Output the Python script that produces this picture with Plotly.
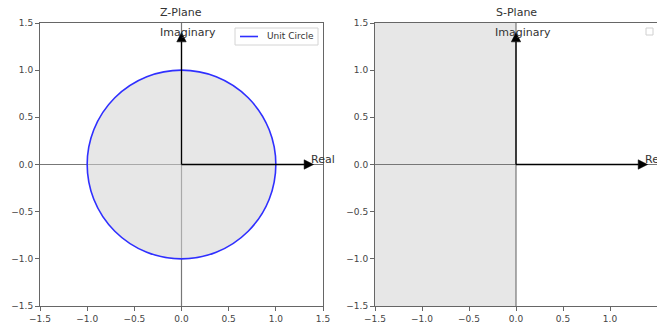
import plotly.graph_objects as go

# ---- data / parameters ----
axis_range = [-1.5, 1.5]
tick_vals = [-1.5, -1.0, -0.5, 0.0, 0.5, 1.0, 1.5]
circle_radius = 1.0
arrow_shaft = 1.3
head_length = 0.1
head_width = 0.1
real_label_pos = [1.35, 0.0]
imag_label_pos = [-0.25, 1.35]
panel_titles = ["Z-Plane", "S-Plane"]
stable_region_x = [-1.5, 0.0]
legend_name = "Unit Circle"

W, H = 657, 324
FONT = "DejaVu Sans"
FILL = "rgba(211,211,211,0.55)"
SPINE = "#666"
CIRCLE_COLOR = "#2f2fff"

fig = go.Figure()

def add_arrows(xa, ya):
    # real axis arrow
    fig.add_trace(go.Scatter(x=[0, arrow_shaft], y=[0, 0], mode="lines",
                             line=dict(color="black", width=1.3),
                             xaxis=xa, yaxis=ya, showlegend=False, hoverinfo="skip"))
    fig.add_trace(go.Scatter(x=[arrow_shaft, arrow_shaft + head_length, arrow_shaft, arrow_shaft],
                             y=[-head_width / 2, 0, head_width / 2, -head_width / 2],
                             mode="lines", fill="toself", fillcolor="black",
                             line=dict(color="black", width=0.5),
                             xaxis=xa, yaxis=ya, showlegend=False, hoverinfo="skip"))
    # imaginary axis arrow
    fig.add_trace(go.Scatter(x=[0, 0], y=[0, arrow_shaft], mode="lines",
                             line=dict(color="black", width=1.3),
                             xaxis=xa, yaxis=ya, showlegend=False, hoverinfo="skip"))
    fig.add_trace(go.Scatter(x=[-head_width / 2, 0, head_width / 2, -head_width / 2],
                             y=[arrow_shaft, arrow_shaft + head_length, arrow_shaft, arrow_shaft],
                             mode="lines", fill="toself", fillcolor="black",
                             line=dict(color="black", width=0.5),
                             xaxis=xa, yaxis=ya, showlegend=False, hoverinfo="skip"))

add_arrows("x", "y")
add_arrows("x2", "y2")

shapes = []
# unit circle
shapes.append(dict(type="circle", xref="x", yref="y",
                   x0=-circle_radius, y0=-circle_radius, x1=circle_radius, y1=circle_radius,
                   fillcolor=FILL, line=dict(color=CIRCLE_COLOR, width=1.6), layer="below"))
# left half-plane fill in S-plane
shapes.append(dict(type="rect", xref="x2", yref="y2 domain",
                   x0=stable_region_x[0], x1=stable_region_x[1], y0=0, y1=1,
                   fillcolor=FILL, line=dict(width=0), layer="below"))
# axhline / axvline
for xr, yr in (("x", "y"), ("x2", "y2")):
    shapes.append(dict(type="line", xref=f"{xr} domain", yref=yr, x0=0, x1=1, y0=0, y1=0,
                       line=dict(color="#777", width=1.2), layer="below"))
    shapes.append(dict(type="line", xref=xr, yref=f"{yr} domain", x0=0, x1=0, y0=0, y1=1,
                       line=dict(color="#777", width=1.2), layer="below"))

# legend box (Z-plane) drawn in matplotlib style
shapes.append(dict(type="rect", xref="paper", yref="paper",
                   x0=235 / W, x1=318 / W, y0=1 - 45 / H, y1=1 - 28 / H,
                   line=dict(color="#d4d4d4", width=1), fillcolor="white"))
shapes.append(dict(type="line", xref="paper", yref="paper",
                   x0=240 / W, x1=258 / W, y0=1 - 36.5 / H, y1=1 - 36.5 / H,
                   line=dict(color=CIRCLE_COLOR, width=1.6)))
# empty legend box on S-plane
shapes.append(dict(type="rect", xref="paper", yref="paper",
                   x0=646 / W, x1=653 / W, y0=1 - 35 / H, y1=1 - 28 / H,
                   line=dict(color="#d0d0d0", width=1), fillcolor="white"))

annotations = []
annotations.append(dict(x=265 / W, y=1 - 36.5 / H, xref="paper", yref="paper",
                        text=legend_name, showarrow=False, xanchor="left", yanchor="middle",
                        font=dict(family=FONT, size=9, color="#333")))
for xr, yr in (("x", "y"), ("x2", "y2")):
    annotations.append(dict(x=real_label_pos[0], y=real_label_pos[1], xref=xr, yref=yr,
                            text="Real", showarrow=False, xanchor="left", yanchor="bottom",
                            yshift=-3, font=dict(family=FONT, size=11, color="#333")))
    annotations.append(dict(x=imag_label_pos[0], y=imag_label_pos[1], xref=xr, yref=yr,
                            text="Imaginary", showarrow=False, xanchor="left", yanchor="bottom",
                            yshift=-4, font=dict(family=FONT, size=11, color="#333")))

left_dom = [40 / W, 323 / W]
right_dom = [375 / W, 1.0]
y_dom = [1 - 306 / H, 1 - 23 / H]

for title, dom in zip(panel_titles, (left_dom, [375 / W, 658 / W])):
    annotations.append(dict(x=(dom[0] + dom[1]) / 2, y=1 - 13 / H, xref="paper", yref="paper",
                            text=title, showarrow=False, xanchor="center", yanchor="middle",
                            font=dict(family=FONT, size=11, color="#333")))

axis_common = dict(range=axis_range, tickvals=tick_vals, tickformat=".1f",
                   showgrid=False, zeroline=False, showline=True, mirror=True,
                   linecolor=SPINE, linewidth=1, ticks="outside", ticklen=4,
                   tickcolor=SPINE, tickwidth=1, automargin=False,
                   tickfont=dict(family=FONT, size=9, color="#444"))

fig.update_layout(
    width=W, height=H,
    margin=dict(l=0, r=0, t=0, b=0, pad=0, autoexpand=False),
    paper_bgcolor="white", plot_bgcolor="white",
    xaxis=dict(domain=left_dom, anchor="y", **axis_common),
    yaxis=dict(domain=y_dom, anchor="x", **axis_common),
    xaxis2=dict(domain=right_dom, anchor="y2", **axis_common),
    yaxis2=dict(domain=y_dom, anchor="x2", **axis_common),
    shapes=shapes,
    annotations=annotations,
    showlegend=False,
    font=dict(family=FONT),
)

fig.write_html("out.html", config={"displayModeBar": False},
               post_script="document.body.style.margin='0';document.body.style.overflow='hidden';")
